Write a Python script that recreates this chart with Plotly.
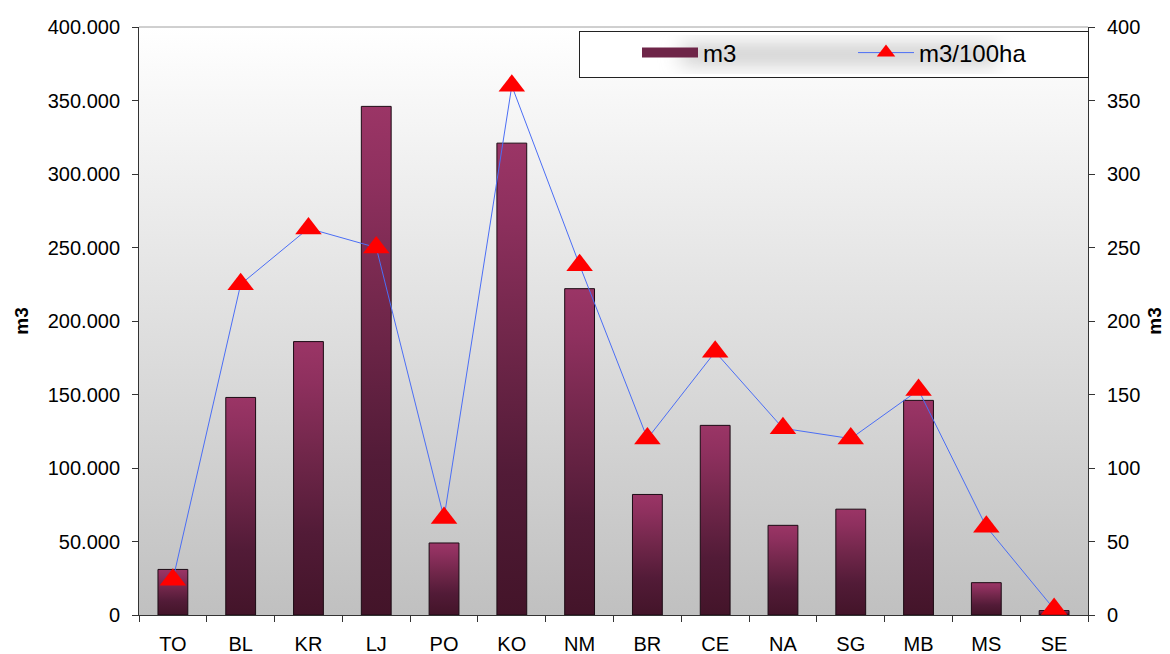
import base64
import plotly.graph_objects as go

# ---- data ----
categories = ["TO", "BL", "KR", "LJ", "PO", "KO", "NM", "BR", "CE", "NA", "SG", "MB", "MS", "SE"]
m3_values = [31000, 148000, 186000, 346000, 49000, 321000, 222000, 82000, 129000, 61000, 72000, 146000, 22000, 3000]
m3_per_100ha = [24, 225, 263, 250, 66, 360, 238, 120, 179, 127, 120, 153, 60, 4]
left_ticks = [0, 50000, 100000, 150000, 200000, 250000, 300000, 350000, 400000]
right_ticks = [0, 50, 100, 150, 200, 250, 300, 350, 400]

FONT = "Liberation Sans, Arial, sans-serif"
BAR_HALF = 0.22

# page body has an 8px margin, so the figure is offset by 8px
OFF = 8
W, H = 1170 - OFF, 654 - OFF
ML, MT = 139 - OFF, 27 - OFF
MR = W - (1088 - OFF)
MB = H - (615 - OFF)
PW = W - ML - MR
PH = H - MT - MB


def svg_uri(svg):
    return "data:image/svg+xml;base64," + base64.b64encode(svg.encode()).decode()


bg_svg = (
    '<svg xmlns="http://www.w3.org/2000/svg" width="100" height="100" viewBox="0 0 100 100" preserveAspectRatio="none">'
    '<defs><linearGradient id="g" x1="0" y1="0" x2="0" y2="1">'
    '<stop offset="0" stop-color="#ffffff"/><stop offset="1" stop-color="#c0c0c0"/>'
    '</linearGradient></defs><rect x="0" y="0" width="100" height="100" fill="url(#g)"/></svg>'
)

# legend box in reference page pixels
LX0, LX1, LY0, LY1 = 579, 1089, 31, 78
lw, lh = LX1 - LX0, LY1 - LY0
leg_svg = (
    f'<svg xmlns="http://www.w3.org/2000/svg" width="{lw}" height="{lh}" viewBox="0 0 {lw} {lh}" preserveAspectRatio="none">'
    '<defs><filter id="b" x="-50%" y="-50%" width="200%" height="200%"><feGaussianBlur stdDeviation="10"/></filter></defs>'
    f'<rect x="0.5" y="0.5" width="{lw-1}" height="{lh-1}" fill="#ffffff"/>'
    f'<rect x="{lw*0.2}" y="{lh*0.3}" width="{lw*0.62}" height="{lh*0.4}" fill="#c8c8c8" filter="url(#b)"/>'
    f'<rect x="0.5" y="0.5" width="{lw-1}" height="{lh-1}" fill="none" stroke="#222" stroke-width="1"/>'
    '</svg>'
)


def px_to_paper_x(px):
    return (px - OFF - ML) / PW


def px_to_paper_y(py):
    return 1 - (py - OFF - MT) / PH


fig = go.Figure()

bar_scale = [[0, "#431429"], [0.3, "#521b37"], [0.6, "#72274b"], [0.85, "#8e305e"], [1, "#9b3566"]]
for i, (cat, v) in enumerate(zip(categories, m3_values)):
    fig.add_trace(go.Scatter(
        x=[i - BAR_HALF, i + BAR_HALF, i + BAR_HALF, i - BAR_HALF, i - BAR_HALF],
        y=[0, 0, v, v, 0],
        mode="lines", fill="toself",
        line=dict(color="#1c0b14", width=1),
        fillgradient=dict(type="vertical", colorscale=bar_scale),
        showlegend=False, hoverinfo="text", text=f"{cat}: {v}",
    ))

# legend-only bar entry (thick line gives a wide swatch)
fig.add_trace(go.Scatter(x=[None], y=[None], name="m3", mode="lines",
                         line=dict(color="#6e2548", width=16)))

fig.add_trace(go.Scatter(
    x=list(range(len(categories))), y=m3_per_100ha, yaxis="y2", name="m3/100ha",
    mode="lines+markers",
    line=dict(color="#4b6ef5", width=1),
    marker=dict(symbol="triangle-up", size=23, color="#ff0000", line=dict(width=0)),
))

fig.update_layout(
    width=W, height=H,
    margin=dict(l=ML, r=MR, t=MT, b=MB, autoexpand=False),
    paper_bgcolor="white", plot_bgcolor="rgba(0,0,0,0)",
    separators=",.",
    font=dict(family=FONT, size=20, color="black"),
    xaxis=dict(
        range=[-0.5, len(categories) - 0.5], automargin=False,
        tickmode="array", tickvals=list(range(len(categories))), ticktext=categories,
        ticks="", showgrid=False, zeroline=False,
        showline=True, linecolor="#333", linewidth=1,
        ticklabelstandoff=11,
        minor=dict(tickmode="array", tickvals=[i - 0.5 for i in range(len(categories) + 1)],
                   ticks="outside", ticklen=6, tickcolor="#333", showgrid=False),
    ),
    yaxis=dict(
        range=[0, 400000], tickmode="array", tickvals=left_ticks, tickformat=",.0f",
        automargin=False,
        ticks="outside", ticklen=6, tickcolor="#333",
        showgrid=False, zeroline=False, showline=True, linecolor="#333", linewidth=1,
        title=dict(text="<b>m3</b>", font=dict(size=19), standoff=14),
        ticklabelstandoff=8,
    ),
    yaxis2=dict(
        range=[0, 400], tickmode="array", tickvals=right_ticks,
        overlaying="y", side="right", automargin=False,
        ticks="outside", ticklen=6, tickcolor="#333",
        showgrid=False, zeroline=False, showline=True, linecolor="#333", linewidth=1,
        title=dict(text="<b>m3</b>", font=dict(size=19), standoff=8),
        ticklabelstandoff=8,
    ),
    legend=dict(
        orientation="h", x=px_to_paper_x(637), xanchor="left",
        y=px_to_paper_y(53), yanchor="middle",
        bgcolor="rgba(0,0,0,0)", borderwidth=0,
        entrywidth=145, entrywidthmode="pixels", itemwidth=56,
        font=dict(size=24),
    ),
    images=[
        dict(source=svg_uri(bg_svg), xref="paper", yref="paper", x=0, y=1,
             sizex=1, sizey=1, xanchor="left", yanchor="top", sizing="stretch", layer="below"),
        dict(source=svg_uri(leg_svg), xref="paper", yref="paper",
             x=px_to_paper_x(LX0), y=px_to_paper_y(LY0),
             sizex=lw / PW, sizey=lh / PH, xanchor="left", yanchor="top",
             sizing="stretch", layer="above"),
    ],
    shapes=[dict(type="line", xref="paper", yref="paper", x0=0, x1=1, y0=1, y1=1,
                 line=dict(color="#a0a0a0", width=1), layer="below")],
)

fig.write_html("out.html")
